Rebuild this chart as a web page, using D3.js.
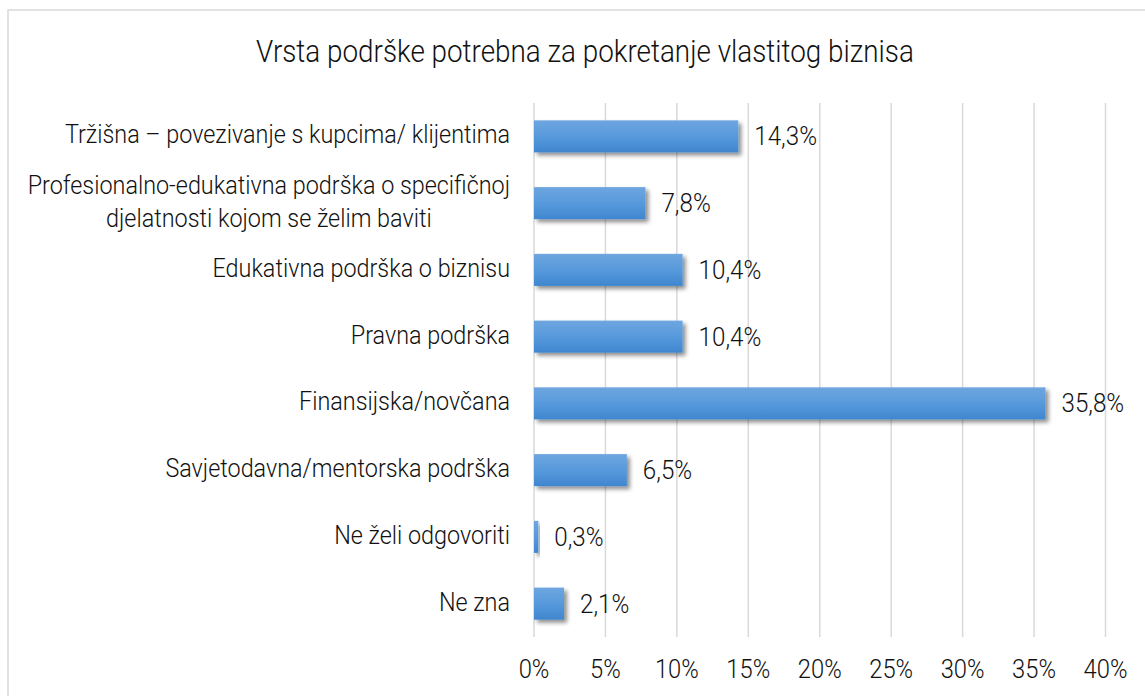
<!DOCTYPE html>
<html>
<head>
<meta charset="utf-8">
<script src="https://cdn.jsdelivr.net/npm/d3@7"></script>
<style>
  body { margin: 0; background: #fff; }
  svg text { font-family: Roboto, "DejaVu Sans Condensed", sans-serif; font-weight: 300; fill: #111; }
</style>
</head>
<body>
<svg id="chart" width="1145" height="696"></svg>
<script>
// data
var categories = [
  ["Tržišna – povezivanje s kupcima/ klijentima"],
  ["Profesionalno-edukativna podrška o specifičnoj", "djelatnosti kojom se želim baviti"],
  ["Edukativna podrška o biznisu"],
  ["Pravna podrška"],
  ["Finansijska/novčana"],
  ["Savjetodavna/mentorska podrška"],
  ["Ne želi odgovoriti"],
  ["Ne zna"]
];
var values = [14.3, 7.8, 10.4, 10.4, 35.8, 6.5, 0.3, 2.1];
var ticks = [0, 5, 10, 15, 20, 25, 30, 35, 40];
var title = "Vrsta podrške potrebna za pokretanje vlastitog biznisa";

var svg = d3.select("#chart");

// put a horizontally squeezed text at (x, y) - gives the condensed look
function label(parent, x, y, txt, size, anchor, sq) {
  var g = parent.append("g")
      .attr("transform", "translate(" + x + "," + y + ") scale(" + sq + ",1)");
  g.append("text")
      .attr("text-anchor", anchor || "start")
      .style("font-size", size + "px")
      .text(txt);
  return g;
}

// chart frame
svg.append("rect")
    .attr("x", 8).attr("y", 10)
    .attr("width", 1160).attr("height", 700)
    .attr("fill", "#fff")
    .attr("stroke", "#d9d9d9")
    .attr("stroke-width", 1.5);

var defs = svg.append("defs");
var grad = defs.append("linearGradient")
    .attr("id", "barGrad")
    .attr("x1", 0).attr("y1", 0).attr("x2", 0).attr("y2", 1);
grad.append("stop").attr("offset", "0%").attr("stop-color", "#6ea6e0");
grad.append("stop").attr("offset", "55%").attr("stop-color", "#5598db");
grad.append("stop").attr("offset", "100%").attr("stop-color", "#3f86cf");

var shadow = defs.append("filter")
    .attr("id", "shadow")
    .attr("x", "-20%").attr("y", "-20%")
    .attr("width", "150%").attr("height", "160%");
shadow.append("feGaussianBlur").attr("in", "SourceAlpha").attr("stdDeviation", 2.2);
shadow.append("feOffset").attr("dx", 2.5).attr("dy", 3).attr("result", "off");
shadow.append("feComponentTransfer").append("feFuncA").attr("type", "linear").attr("slope", 0.45);
var merge = shadow.append("feMerge");
merge.append("feMergeNode");
merge.append("feMergeNode").attr("in", "SourceGraphic");

var x = d3.scaleLinear().domain([0, 40]).range([534, 1105.5]);
var y = d3.scaleBand()
    .domain(d3.range(categories.length))
    .range([103, 637])
    .paddingInner(0.52)
    .paddingOuter(0.26);

// title
label(svg, 585, 62, title, 32, "middle", 0.87);

// gridlines
svg.append("g").selectAll("line")
  .data(ticks)
  .join("line")
    .attr("x1", d => x(d)).attr("x2", d => x(d))
    .attr("y1", 103).attr("y2", 637)
    .attr("stroke", "#d9d9d9")
    .attr("stroke-width", 1.5);

// x tick labels
var tickG = svg.append("g");
ticks.forEach(function(t) {
  label(tickG, x(t), 678, t + "%", 25, "middle", 0.95);
});

// bars
svg.append("g").selectAll("rect")
  .data(values)
  .join("rect")
    .attr("x", x(0))
    .attr("y", (d, i) => y(i))
    .attr("width", d => x(d) - x(0))
    .attr("height", y.bandwidth())
    .attr("fill", "url(#barGrad)")
    .attr("filter", "url(#shadow)");

// value labels
var valG = svg.append("g");
values.forEach(function(v, i) {
  label(valG, x(v) + 16, y(i) + y.bandwidth() / 2 + 9,
        v.toFixed(1).replace(".", ",") + "%", 26, "start", 0.93);
});

// category labels (lines centered within a right-aligned block)
var labelRight = 510;
var catSq = 0.935;
var catG = svg.append("g");
categories.forEach(function(lines, i) {
  var cy = y(i) + y.bandwidth() / 2;
  var lh = 33;
  var ys = lines.map((l, j) => cy + 7 + (j - (lines.length - 1) / 2) * lh);
  var gs = lines.map((l, j) => label(catG, 0, ys[j], l, 25, "middle", catSq));
  var maxW = d3.max(gs, g => g.select("text").node().getComputedTextLength()) * catSq;
  var center = labelRight - maxW / 2;
  gs.forEach(function(g, j) {
    g.attr("transform", "translate(" + center + "," + ys[j] + ") scale(" + catSq + ",1)");
  });
});
</script>
</body>
</html>
